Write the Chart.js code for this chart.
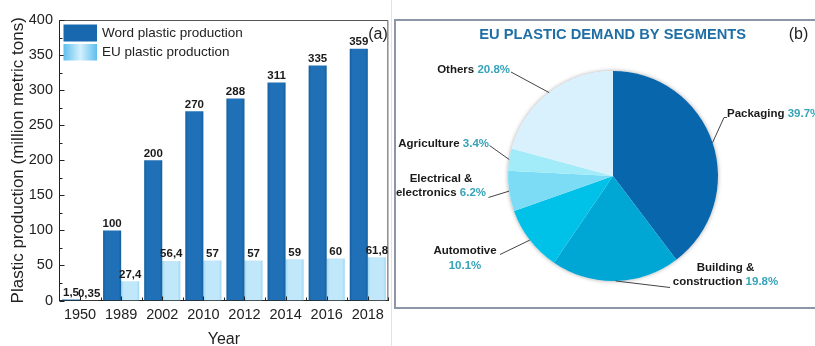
<!DOCTYPE html>
<html>
<head>
<meta charset="utf-8">
<script src="https://cdn.jsdelivr.net/npm/chart.js@4.4.1/dist/chart.umd.min.js"></script>
<style>
    body { margin: 0; background: #fff; }
    #contenedor { position: relative; width: 815px; height: 346px; overflow: hidden; background: #fff; }
    #graficoProduccion { position: absolute; left: 0; top: 0; }
    #graficoSegmentos { position: absolute; left: 390px; top: 0; }
    #separador { position: absolute; left: 391px; top: 0; width: 1px; height: 346px; background: #e3e3e3; }
</style>
</head>
<body>
<div id="contenedor">
    <canvas id="graficoProduccion" width="390" height="346"></canvas>
    <canvas id="graficoSegmentos" width="425" height="346"></canvas>
    <div id="separador"></div>
</div>
<script>
// Datos (a): produccion de plastico por año
const anios = ['1950', '1989', '2002', '2010', '2012', '2014', '2016', '2018'];
const produccionMundial = [1.5, 100, 200, 270, 288, 311, 335, 359];
const produccionUE = [0.35, 27.4, 56.4, 57, 57, 59, 60, 61.8];
const nombresSeries = ['Word plastic production', 'EU plastic production'];

// Datos (b): demanda europea por segmento (%)
const segmentos = ['Packaging', 'Building &\nconstruction', 'Automotive', 'Electrical &\nelectronics', 'Agriculture', 'Others'];
const porcentajes = [39.7, 19.8, 10.1, 6.2, 3.4, 20.8];
const coloresSegmentos = ['#0866ac', '#00a6d4', '#00c2e8', '#7cdcf5', '#a2ebf8', '#d9f1fc'];

Chart.defaults.font.family = "'Liberation Sans', Arial, sans-serif";
Chart.defaults.color = '#222';

function formatoValor(v) {
    return String(v).replace('.', ',');
}

// degradado horizontal suave de cada barra
function degradadoBarra(context, serie, borde, centro) {
    const chart = context.chart;
    const x = chart.scales.x;
    if (!chart.chartArea || !x) return centro;
    const ancho = (x.getPixelForValue(1) - x.getPixelForValue(0)) * 0.88 / 2;
    const medio = x.getPixelForValue(context.dataIndex) + (serie === 0 ? -ancho / 2 : ancho / 2);
    const g = chart.ctx.createLinearGradient(medio - ancho / 2, 0, medio + ancho / 2, 0);
    g.addColorStop(0, borde);
    g.addColorStop(0.15, centro);
    g.addColorStop(0.85, centro);
    g.addColorStop(1, borde);
    return g;
}

const marcoPanelA = {
    id: 'marcoPanelA',
    afterDraw(chart) {
        const ctx = chart.ctx;
        const a = chart.chartArea;
        const y = chart.scales.y;
        const x = chart.scales.x;
        ctx.save();

        // marco superior y derecho
        ctx.strokeStyle = '#555';
        ctx.lineWidth = 1;
        ctx.beginPath();
        ctx.moveTo(a.left, a.top + 0.5);
        ctx.lineTo(a.right - 0.5, a.top + 0.5);
        ctx.lineTo(a.right - 0.5, a.bottom);
        ctx.stroke();

        // marcas hacia dentro en los ejes
        ctx.strokeStyle = '#222';
        ctx.beginPath();
        for (let v = 0; v <= 400; v += 25) {
            const py = Math.round(y.getPixelForValue(v)) + 0.5;
            ctx.moveTo(a.left, py);
            ctx.lineTo(a.left + (v % 50 === 0 ? 5 : 3), py);
        }
        const paso = x.getPixelForValue(1) - x.getPixelForValue(0);
        for (let i = 0; i < anios.length; i++) {
            const px = Math.round(x.getPixelForValue(i)) + 0.5;
            ctx.moveTo(px, a.bottom);
            ctx.lineTo(px, a.bottom - 4);
            const pb = Math.round(x.getPixelForValue(i) + paso / 2) + 0.5;
            ctx.moveTo(pb, a.bottom);
            ctx.lineTo(pb, a.bottom - 3);
        }
        ctx.stroke();

        // valores sobre las barras
        ctx.font = "bold 11.5px 'Liberation Sans', Arial, sans-serif";
        ctx.fillStyle = '#1a1a1a';
        ctx.textAlign = 'center';
        ctx.textBaseline = 'bottom';
        chart.data.datasets.forEach((ds, i) => {
            chart.getDatasetMeta(i).data.forEach((el, j) => {
                ctx.fillText(formatoValor(ds.data[j]), el.x, el.y - 1);
            });
        });

        // leyenda dentro del area
        ctx.fillStyle = '#1868b0';
        ctx.fillRect(63.5, 24.5, 33.5, 17);
        const g = ctx.createLinearGradient(63.5, 0, 97, 0);
        g.addColorStop(0, '#5fbfee');
        g.addColorStop(0.5, '#d3f0fd');
        g.addColorStop(1, '#5fbfee');
        ctx.fillStyle = g;
        ctx.fillRect(63.5, 44, 33.5, 16.5);
        ctx.font = "13.5px 'Liberation Sans', Arial, sans-serif";
        ctx.fillStyle = '#222';
        ctx.textAlign = 'left';
        ctx.textBaseline = 'middle';
        ctx.fillText(chart.data.datasets[0].label, 102, 33);
        ctx.fillText(chart.data.datasets[1].label, 102, 52.5);

        ctx.font = "16px 'Liberation Sans', Arial, sans-serif";
        ctx.textAlign = 'center';
        ctx.fillText('(a)', 378, 35);
        ctx.restore();
    }
};

new Chart(document.getElementById('graficoProduccion').getContext('2d'), {
    type: 'bar',
    data: {
        labels: anios,
        datasets: [{
            label: nombresSeries[0],
            data: produccionMundial,
            backgroundColor: c => degradadoBarra(c, 0, '#14609f', '#1f70b6'),
            borderWidth: 0,
            categoryPercentage: 0.88,
            barPercentage: 1
        }, {
            label: nombresSeries[1],
            data: produccionUE,
            backgroundColor: c => degradadoBarra(c, 1, '#9fd8f4', '#c0e7fa'),
            borderWidth: 0,
            categoryPercentage: 0.88,
            barPercentage: 1
        }]
    },
    options: {
        responsive: false,
        animation: false,
        layout: { padding: { top: 20, right: 1, left: 0, bottom: 0 } },
        plugins: { legend: { display: false }, tooltip: { enabled: false } },
        scales: {
            x: {
                grid: { display: false, drawTicks: false },
                border: { color: '#222', width: 1 },
                ticks: { font: { size: 14.5 }, color: '#222', padding: 6 },
                title: { display: true, text: 'Year', font: { size: 16 }, color: '#222', padding: { top: 0, bottom: -3 } },
                afterFit: s => { s.height = 45.5; }
            },
            y: {
                min: 0,
                max: 400,
                grid: { display: false, drawTicks: false },
                border: { color: '#222', width: 1 },
                ticks: { stepSize: 50, font: { size: 14.5 }, color: '#222', padding: 6.5 },
                title: { display: true, text: 'Plastic production (million metric tons)', font: { size: 17 }, color: '#222', padding: { top: 8, bottom: 0 } },
                afterFit: s => { s.width = 59.5; }
            }
        }
    },
    plugins: [marcoPanelA]
});

// posicion de los rotulos del pastel (coordenadas del lienzo derecho)
const rotulosPastel = [
    { x: 337, y: 113.5, align: 'left', linea: [[337, 117.5], [334, 117.5]] },
    { x: 335.5, y: 267.5, align: 'center', linea: [[280, 287.5]] },
    { x: 75, y: 251, align: 'center', pctSolo: true, linea: [[110, 254.5]] },
    { x: 51, y: 179, align: 'center', linea: [[98.5, 197.5]] },
    { x: 99, y: 143.5, align: 'right', linea: [[99.5, 145.5]] },
    { x: 120, y: 70, align: 'right', linea: [[121, 72]] }
];

function lineaRica(ctx, partes, x, y, align) {
    const anchos = partes.map(p => ctx.measureText(p.texto).width);
    const total = anchos.reduce((s, w) => s + w, 0);
    let px = align === 'left' ? x : align === 'right' ? x - total : x - total / 2;
    ctx.textAlign = 'left';
    partes.forEach((p, i) => {
        ctx.fillStyle = p.color;
        ctx.fillText(p.texto, px, y);
        px += anchos[i];
    });
}

const marcoPanelB = {
    id: 'marcoPanelB',
    beforeDatasetsDraw(chart) {
        // sombra suave bajo el pastel
        const arco = chart.getDatasetMeta(0).data[0];
        const ctx = chart.ctx;
        ctx.save();
        ctx.shadowColor = 'rgba(0,0,0,0.35)';
        ctx.shadowBlur = 4;
        ctx.fillStyle = '#fff';
        ctx.beginPath();
        ctx.arc(arco.x, arco.y, arco.outerRadius, 0, Math.PI * 2);
        ctx.fill();
        ctx.restore();
    },
    afterDraw(chart) {
        const ctx = chart.ctx;
        ctx.save();

        // recuadro del panel
        ctx.strokeStyle = '#8c96a6';
        ctx.lineWidth = 2;
        ctx.strokeRect(5, 20, 440, 288);

        ctx.textBaseline = 'middle';
        ctx.font = "bold 14.7px 'Liberation Sans', Arial, sans-serif";
        ctx.fillStyle = '#1f6fa6';
        ctx.textAlign = 'center';
        ctx.fillText('EU PLASTIC DEMAND BY SEGMENTS', 222.7, 35);
        ctx.font = "16px 'Liberation Sans', Arial, sans-serif";
        ctx.fillStyle = '#222';
        ctx.fillText('(b)', 408.5, 35);

        // rotulos con lineas guia
        const meta = chart.getDatasetMeta(0);
        ctx.font = "bold 11.5px 'Liberation Sans', Arial, sans-serif";
        meta.data.forEach((arco, i) => {
            const r = rotulosPastel[i];
            const medio = (arco.startAngle + arco.endAngle) / 2;
            const ax = arco.x + Math.cos(medio) * arco.outerRadius;
            const ay = arco.y + Math.sin(medio) * arco.outerRadius;
            ctx.strokeStyle = '#444';
            ctx.lineWidth = 1;
            ctx.beginPath();
            ctx.moveTo(r.linea[0][0], r.linea[0][1]);
            r.linea.slice(1).forEach(p => ctx.lineTo(p[0], p[1]));
            ctx.lineTo(ax, ay);
            ctx.stroke();

            const lineas = chart.data.labels[i].split('\n');
            const pct = { texto: porcentajes[i] + '%', color: '#36a3b8' };
            if (r.pctSolo) {
                lineaRica(ctx, [{ texto: lineas[0], color: '#1a1a1a' }], r.x, r.y, r.align);
                lineaRica(ctx, [pct], r.x, r.y + 14.5, r.align);
            } else {
                lineas.forEach((t, k) => {
                    const partes = [{ texto: t, color: '#1a1a1a' }];
                    if (k === lineas.length - 1) partes.push({ texto: ' ' + pct.texto, color: pct.color });
                    lineaRica(ctx, partes, r.x, r.y + k * 14, r.align);
                });
            }
        });
        ctx.restore();
    }
};

new Chart(document.getElementById('graficoSegmentos').getContext('2d'), {
    type: 'pie',
    data: {
        labels: segmentos,
        datasets: [{
            data: porcentajes,
            backgroundColor: coloresSegmentos,
            borderWidth: 0,
            hoverOffset: 0,
            offset: 0
        }]
    },
    options: {
        responsive: false,
        animation: false,
        layout: { padding: { left: 118, right: 97, top: 71, bottom: 65 } },
        plugins: { legend: { display: false }, tooltip: { enabled: false } }
    },
    plugins: [marcoPanelB]
});
</script>
</body>
</html>
